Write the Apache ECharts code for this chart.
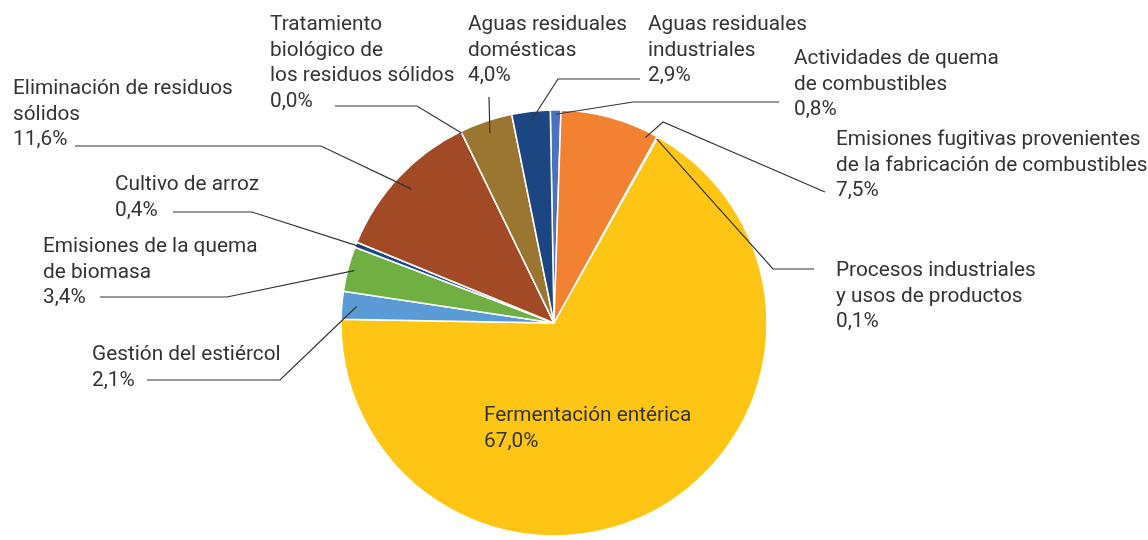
<!DOCTYPE html>
<html>
<head>
<meta charset="utf-8">
<title>Emisiones por subsector</title>
<script src="https://cdn.jsdelivr.net/npm/echarts@6/dist/echarts.min.js"></script>
<style>
  html, body { margin: 0; padding: 0; background: #fff; }
  #chart { width: 1148px; height: 540px; }
</style>
</head>
<body>
<div id="chart"></div>
<script>
// categorias (en el orden del grafico, sentido horario desde arriba)
const categories = [
  'Actividades de quema\nde combustibles',
  'Emisiones fugitivas provenientes\nde la fabricación de combustibles',
  'Procesos industriales\ny usos de productos',
  'Fermentación entérica',
  'Gestión del estiércol',
  'Emisiones de la quema\nde biomasa',
  'Cultivo de arroz',
  'Eliminación de residuos\nsólidos',
  'Tratamiento\nbiológico de\nlos residuos sólidos',
  'Aguas residuales\ndomésticas',
  'Aguas residuales\nindustriales'
]
// porcentajes
const values = [0.8, 7.5, 0.1, 67.0, 2.1, 3.4, 0.4, 11.6, 0.0, 4.0, 2.9]
const colors = ['#4a72be', '#f28232', '#9aa3ad', '#fec514', '#5b9bd5', '#70b043',
  '#1b4a8a', '#a24a26', '#8c8c8c', '#9a7630', '#1b4682']

// geometria de la torta
const CX = 554, CY = 323, R = 213, START = 91

// posicion de cada etiqueta y del quiebre de su linea guia
// t: punto a lo largo del sector, rf: fraccion del radio donde arranca la linea
const labelPos = [
  { x: 794, y: 46, t: 0.5, rf: 0.98, pts: [[633, 102], [779, 102]] },
  { x: 836, y: 127, t: 0.9, rf: 0.97, pts: [[663, 122], [825, 192]] },
  { x: 836, y: 258, t: 0.5, rf: 0.99, pts: [[773, 269], [814, 269]] },
  { x: 484, y: 403, inside: true },
  { x: 92, y: 342, t: 0.5, rf: 0.93, pts: [[280, 380], [147, 380]] },
  { x: 43, y: 234, t: 0.5, rf: 0.97, pts: [[227, 297], [100, 297]] },
  { x: 115, y: 172, t: 0.5, rf: 0.96, pts: [[252, 212], [173, 212]] },
  { x: 13, y: 76, t: 0.5, rf: 0.92, pts: [[321, 146], [75, 146]] },
  { x: 270, y: 12, t: 0.5, rf: 0.99, pts: [[417, 106], [335, 106]] },
  { x: 468, y: 12, t: 0.5, rf: 0.94, pts: [[489, 97]] },
  { x: 648, y: 12, t: 0.5, rf: 0.96, pts: [[558, 79], [640, 79]] }
]

const total = values.reduce((a, b) => a + b, 0)

function fmtPct(v) {
  return v.toFixed(1).replace('.', ',') + '%'
}

// punto de anclaje de la linea guia sobre el sector
function anchor(i) {
  const before = values.slice(0, i).reduce((a, b) => a + b, 0)
  const L = labelPos[i]
  const frac = (before + values[i] * L.t) / total
  const ang = (frac * 360 - (START - 90)) * Math.PI / 180
  const r = R * L.rf
  return [CX + r * Math.sin(ang), CY - r * Math.cos(ang)]
}

const chart = echarts.init(document.getElementById('chart'))

const base = {
  type: 'pie',
  center: [CX, CY],
  radius: [0, R],
  startAngle: START,
  clockwise: true,
  avoidLabelOverlap: false,
  silent: true
}

chart.setOption({
  animation: false,
  series: [
    // sectores
    Object.assign({}, base, {
      z: 2,
      itemStyle: { borderColor: '#fff', borderWidth: 1.5 },
      label: { show: false },
      labelLine: { show: false },
      data: categories.map((name, i) => ({
        name: name,
        value: values[i],
        itemStyle: { color: colors[i] }
      }))
    }),
    // etiquetas y lineas guia, por encima de todos los sectores
    Object.assign({}, base, {
      z: 10,
      itemStyle: { color: 'rgba(0,0,0,0)', borderWidth: 0 },
      label: {
        show: true,
        position: 'outside',
        fontFamily: 'Roboto',
        fontSize: 20.8,
        lineHeight: 25.7,
        color: '#333',
        formatter: (p) => p.name + '\n' + fmtPct(p.value)
      },
      labelLine: {
        show: true,
        lineStyle: { color: '#333', width: 1.2 }
      },
      labelLayout: (p) => {
        const i = p.dataIndex
        const L = labelPos[i]
        const out = { x: L.x, y: L.y, align: 'left', verticalAlign: 'top' }
        if (!L.inside) {
          const pts = [anchor(i)].concat(L.pts)
          if (pts.length < 3) pts.push(pts[pts.length - 1])
          out.labelLinePoints = pts
        }
        return out
      },
      data: categories.map((name, i) => ({
        name: name,
        value: values[i],
        labelLine: { show: !labelPos[i].inside }
      }))
    })
  ]
})
</script>
</body>
</html>
